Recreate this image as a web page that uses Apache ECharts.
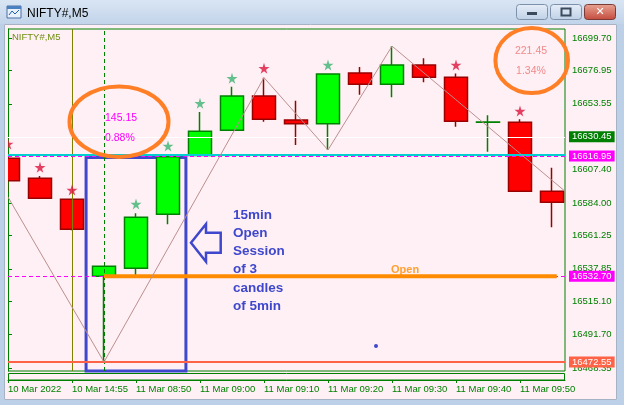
<!DOCTYPE html>
<html><head><meta charset="utf-8">
<script src="https://cdn.jsdelivr.net/npm/echarts@6/dist/echarts.min.js"></script>
<style>html,body{margin:0;padding:0;background:#fff0f5}#c{width:624px;height:405px}</style>
</head><body><div id="c"></div>
<script>
// ---- data ----
const timeLabels = ['10 Mar 2022','10 Mar 14:55','11 Mar 08:50','11 Mar 09:00','11 Mar 09:10','11 Mar 09:20','11 Mar 09:30','11 Mar 09:40','11 Mar 09:50'];
const timeLabelIndex = [0,2,4,6,8,10,12,14,16];
const candleIndex = [0,1,2,3,4,5,6,7,8,9,10,11,12,13,14,15,16,17];
const opens  = [16615.4,16601.3,16586.6,16532.70,16538.2,16576.1,16617.3,16635.0,16659.0,16642.2,16639.6,16675.2,16667.2,16680.8,16672.1,16640.7,16640.6,16592.2];
const closes = [16599.7,16587.3,16565.6,16539.6,16574.0,16616.5,16634.3,16659.0,16642.7,16639.6,16674.5,16667.2,16680.8,16672.1,16641.3,16640.8,16592.2,16584.5];
const lows   = [16591.9,16587.0,16565.0,16472.55,16532.4,16569.1,16616.8,16634.5,16641.0,16624.7,16621.2,16660.0,16658.1,16668.6,16637.5,16620.0,16592.0,16567.0];
const highs  = [16619.1,16602.9,16587.2,16539.6,16576.8,16617.70,16647.8,16665.6,16671.9,16655.7,16675.0,16679.4,16694.0,16685.5,16674.9,16645.5,16642.7,16608.8];
const priceTicks = [16699.70,16676.95,16653.55,16630.45,16607.40,16584.00,16561.25,16537.85,16515.10,16491.70,16468.35];
const zigzagX = [0,3,8,10,12,17.4];
const zigzagY = [16588.2,16472.55,16671.9,16621.2,16694.0,16592.4];
const redStarX = [0,1,2,8,14,16];
const redStarY = [16625.4,16609.1,16593.1,16678.5,16680.8,16648.5];
const greenStarX = [4,5,6,7,10];
const greenStarY = [16583.3,16624.0,16653.9,16671.4,16680.8];
const bidPrice = 16630.45;
const sessionHigh = 16617.70;
const highLevel = 16616.95;
const openPrice = 16532.70;
const lowPrice = 16472.55;
const verticalLineIndex = 2;   // 10 Mar 14:55
const daySeparatorIndex = 3;   // first bar of 11 Mar
const leftNote = ['145.15','0.88%'];
const rightNote = ['221.45','1.34%'];
const noteLines = ['15min','Open','Session','of 3','candles','of 5min'];

const STAR = 'path://M50,0 L61,35 L98,35 L68,57 L79,91 L50,70 L21,91 L32,57 L2,35 L39,35 Z';
const FONT = 'Liberation Sans';
const AXC = '#008000';

const chart = echarts.init(document.getElementById('c'), null, {renderer:'canvas'});

function lvlLabel(bg){
  return {show:true, position:'end', distance:4, formatter:p=>p.value.toFixed(2),
    backgroundColor:bg, color:'#fff', fontFamily:FONT, fontSize:9.5, padding:[1,3,0,3]};
}

const option = {
  animation:false,
  backgroundColor:'#fff0f5',
  grid:{left:8, top:29, width:557, height:342, show:true, borderColor:AXC, borderWidth:1, backgroundColor:'transparent'},
  xAxis:{type:'value', min:0, max:17.40625, offset:9, splitLine:{show:false},
    axisLine:{show:true, onZero:false, lineStyle:{color:AXC}},
    axisTick:{show:true, length:3, customValues:timeLabelIndex, lineStyle:{color:AXC}},
    axisLabel:{customValues:timeLabelIndex, formatter:v=>timeLabels[timeLabelIndex.indexOf(v)],
      align:'left', margin:4, color:AXC, fontFamily:FONT, fontSize:9.5}},
  yAxis:{type:'value', position:'right', min:16466.25, max:16706.01, splitLine:{show:false},
    axisLine:{show:true, lineStyle:{color:AXC}},
    axisTick:{show:true, length:4, customValues:priceTicks, lineStyle:{color:AXC}},
    axisLabel:{customValues:priceTicks, formatter:v=>v.toFixed(2), color:AXC, fontFamily:FONT, fontSize:9.5, margin:7}},
  series:[
    {type:'line', data:[], z:1, silent:true,
      markLine:{silent:true, symbol:'none', animation:false,
        data:[
          {yAxis:bidPrice, lineStyle:{color:'#ffffff', width:1, type:'solid'}, label:lvlLabel('#008000')},
          {xAxis:verticalLineIndex, lineStyle:{color:'#808000', width:1, type:'solid'}, label:{show:false}},
          {xAxis:daySeparatorIndex, lineStyle:{color:'#008000', width:1, type:[4,3]}, label:{show:false}}
        ]}},
    {type:'candlestick', z:2, silent:true, barWidth:23, clip:true,
      data:candleIndex.map(i=>[i, opens[i], closes[i], lows[i], highs[i]]),
      encode:{x:0, y:[1,2,3,4]},
      itemStyle:{color:'#00ff00', color0:'#ff0000', borderColor:'#008000', borderColor0:'#990000', borderWidth:1.5}},
    {type:'line', data:[], z:3, silent:true,
      markLine:{silent:true, symbol:'none', animation:false,
        data:[
          {yAxis:sessionHigh, lineStyle:{color:'#00ced1', width:2, type:'solid'}, label:{show:false}},
          {yAxis:highLevel, lineStyle:{color:'#ff00ff', width:1, type:[4,3]}, label:lvlLabel('#ff00ff')},
          {yAxis:openPrice, lineStyle:{color:'#ff00ff', width:1, type:[4,3]}, label:lvlLabel('#ff00ff')},
          {yAxis:lowPrice, lineStyle:{color:'#ff6347', width:2, type:'solid'}, label:lvlLabel('#ff6347')}
        ]}},
    {type:'line', z:5, silent:true, symbol:'none', clip:false,
      data:[[3, openPrice],[17.15, openPrice]],
      lineStyle:{color:'#ff8c00', width:4},
      markArea:{silent:true, itemStyle:{color:'rgba(0,0,0,0)', borderColor:'#3f48cc', borderWidth:3},
        data:[[{coord:[2.44, 16615.9]},{coord:[5.56, 16466.3]}]]}},
    {type:'line', z:6, silent:true, symbol:'none',
      data:zigzagX.map((x,i)=>[x, zigzagY[i]]),
      lineStyle:{color:'#bc8f8f', width:1}},
    {type:'scatter', z:7, silent:true, symbol:STAR, symbolSize:11,
      data:redStarX.map((x,i)=>[x, redStarY[i]]), itemStyle:{color:'#dc143c'}},
    {type:'scatter', z:7, silent:true, symbol:STAR, symbolSize:11,
      data:greenStarX.map((x,i)=>[x, greenStarY[i]]), itemStyle:{color:'#3cb371'}},
    {type:'scatter', z:7, silent:true, symbolSize:0,
      data:[[12.41, openPrice]],
      label:{show:true, position:'top', distance:1, formatter:'Open', color:'#ff8c00', fontWeight:'bold', fontFamily:FONT, fontSize:11}}
  ],
  graphic:[
    // clip strip left of the plot (candles are cut at the plot edge)
    {type:'rect', shape:{x:4,y:26,width:4,height:347}, style:{fill:'#fff0f5'}, silent:true, z:15},
    // window chrome
    {type:'rect', shape:{x:0,y:0,width:624,height:24}, style:{fill:new echarts.graphic.LinearGradient(0,0,0,1,[{offset:0,color:'#d9e5f3'},{offset:1,color:'#c2d4ea'}])}, silent:true, z:16},
    {type:'rect', shape:{x:0,y:24,width:4,height:381}, style:{fill:'#bcd1e8'}, silent:true, z:16},
    {type:'rect', shape:{x:617,y:24,width:7,height:381}, style:{fill:'#bcd1e8'}, silent:true, z:16},
    {type:'rect', shape:{x:0,y:400,width:624,height:5}, style:{fill:'#bcd1e8'}, silent:true, z:16},
    {type:'rect', shape:{x:4.5,y:24.5,width:612,height:375}, style:{fill:'none', stroke:'#a6b3c4', lineWidth:1}, silent:true, z:16},
    {type:'rect', shape:{x:7,y:6,width:14,height:12}, style:{fill:'#e8f0fa', stroke:'#4a6fa5', lineWidth:1}, silent:true, z:16},
    {type:'rect', shape:{x:7,y:6,width:14,height:3}, style:{fill:'#4a7fc0'}, silent:true, z:16},
    {type:'polyline', shape:{points:[[9,15],[12,11],[15,14],[19,10]]}, style:{stroke:'#2060b0', lineWidth:1, fill:'none'}, silent:true, z:16},
    {type:'text', x:27, y:14, style:{text:'NIFTY#,M5', fill:'#000', font:'12px "Liberation Sans"', verticalAlign:'middle'}, silent:true, z:16},
    {type:'rect', shape:{x:516.5,y:4.5,width:31,height:15,r:3}, style:{fill:new echarts.graphic.LinearGradient(0,0,0,1,[{offset:0,color:'#e6eef8'},{offset:1,color:'#bfd0e6'}]), stroke:'#7d91ab', lineWidth:1}, silent:true, z:16},
    {type:'rect', shape:{x:527,y:12,width:10,height:3}, style:{fill:'#3b4a5c'}, silent:true, z:16},
    {type:'rect', shape:{x:550.5,y:4.5,width:31,height:15,r:3}, style:{fill:new echarts.graphic.LinearGradient(0,0,0,1,[{offset:0,color:'#e6eef8'},{offset:1,color:'#bfd0e6'}]), stroke:'#7d91ab', lineWidth:1}, silent:true, z:16},
    {type:'rect', shape:{x:561.5,y:8.5,width:9,height:7}, style:{fill:'none', stroke:'#3b4a5c', lineWidth:2}, silent:true, z:16},
    {type:'rect', shape:{x:584.5,y:4.5,width:31,height:15,r:3}, style:{fill:new echarts.graphic.LinearGradient(0,0,0,1,[{offset:0,color:'#e8a595'},{offset:1,color:'#c44a3c'}]), stroke:'#7a3a36', lineWidth:1}, silent:true, z:16},
    {type:'text', x:600, y:12, style:{text:'✕', fill:'#fff', font:'bold 11px "DejaVu Sans"', align:'center', verticalAlign:'middle'}, silent:true, z:16},
    // time-axis strip
    {type:'rect', shape:{x:8.5,y:373.5,width:556,height:6.5}, style:{fill:'none', stroke:AXC, lineWidth:1}, silent:true},
    // chart title
    {type:'text', x:12, y:37, style:{text:'NIFTY#,M5', fill:'#6f8f10', font:'9.5px "Liberation Sans"', verticalAlign:'middle'}, silent:true, z:10},
    // annotations
    {type:'ellipse', shape:{cx:119, cy:121.7, rx:49.5, ry:35.3}, style:{fill:'none', stroke:'#ff7f27', lineWidth:4}, silent:true, z:20},
    {type:'text', x:105, y:118.5, style:{text:leftNote[0], fill:'#ff00ff', font:'10.5px "Liberation Sans"', verticalAlign:'middle'}, silent:true, z:20},
    {type:'text', x:105, y:138.5, style:{text:leftNote[1], fill:'#ff00ff', font:'10.5px "Liberation Sans"', verticalAlign:'middle'}, silent:true, z:20},
    {type:'ellipse', shape:{cx:531.7, cy:60.5, rx:36.3, ry:32.5}, style:{fill:'none', stroke:'#ff7f27', lineWidth:4}, silent:true, z:20},
    {type:'text', x:531, y:50.7, style:{text:rightNote[0], fill:'#f08a8a', font:'10.5px "Liberation Sans"', align:'center', verticalAlign:'middle'}, silent:true, z:20},
    {type:'text', x:531, y:70.7, style:{text:rightNote[1], fill:'#f08a8a', font:'10.5px "Liberation Sans"', align:'center', verticalAlign:'middle'}, silent:true, z:20},
    {type:'polygon', shape:{points:[[191,242.7],[206,224],[206,232.7],[220.7,232.7],[220.7,252.7],[206,252.7],[206,261.7]]}, style:{fill:'none', stroke:'#3f48cc', lineWidth:2.5}, silent:true, z:20},
    {type:'text', x:233, y:206, style:{text:noteLines.join('\n'), fill:'#3f48cc', font:'bold 13.5px "Liberation Sans"', lineHeight:18.2, verticalAlign:'top'}, silent:true, z:20},
    {type:'circle', shape:{cx:376, cy:346, r:2}, style:{fill:'#3f48cc'}, silent:true, z:20}
  ]
};
chart.setOption(option);
</script></body></html>
